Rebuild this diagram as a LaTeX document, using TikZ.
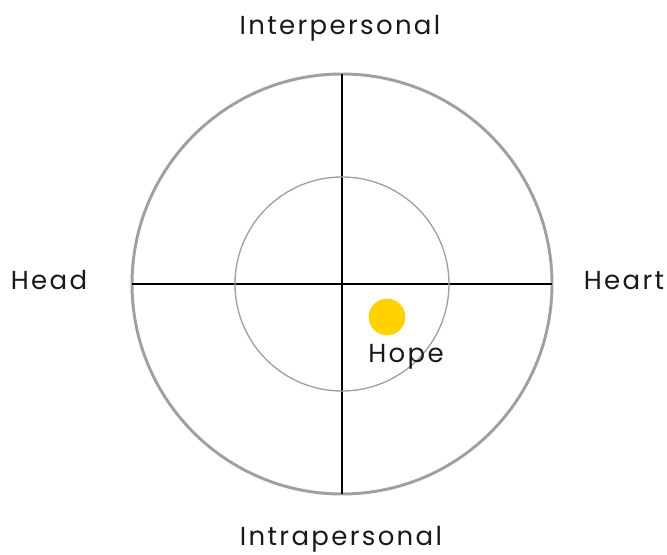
\documentclass[tikz,border=0pt]{standalone}
\usepackage{fontspec}
\setmainfont[LetterSpace=9]{Poppins}
\usepackage{xcolor}
\usetikzlibrary{positioning}
\definecolor{ringgray}{HTML}{A0A0A0}
\definecolor{hopeyellow}{HTML}{FFD200}
\tikzstyle{axislabel} = [font=\fontsize{19.5}{22}\selectfont, text=black!90, inner sep=0pt, anchor=base]
\tikzstyle{ring} = [draw=ringgray]

\begin{document}
\begin{tikzpicture}[x=0.75pt, y=-0.75pt]
    \useasboundingbox (0,0) rectangle (667,555);
    \coordinate (c) at (342,284);
    \draw [ring, line width=2.2pt] (c) circle (210);
    \coordinate (top) at (342,74);
    \coordinate (bot) at (342,494);
    \coordinate (lft) at (132,284);
    \coordinate (rgt) at (552,284);
    \draw [line width=1.5pt] (top) -- (bot);
    \draw [line width=1.5pt] (lft) -- (rgt);
    \node [circle, fill=hopeyellow, minimum size=27.5pt, inner sep=0pt] (dot) at (387,317) {};
    \draw [ring, line width=1pt] (c) circle (107);
    \node [axislabel] (inter) at (340,35) {Interpersonal};
    \node [axislabel] (intra) at (341,545) {Intrapersonal};
    \node [axislabel] (head) at (49,290) {Head};
    \node [axislabel] (heart) at (624,290) {Heart};
    \node [axislabel, anchor=base west] (hope) at (368,363) {Hope};
\end{tikzpicture}
\end{document}
